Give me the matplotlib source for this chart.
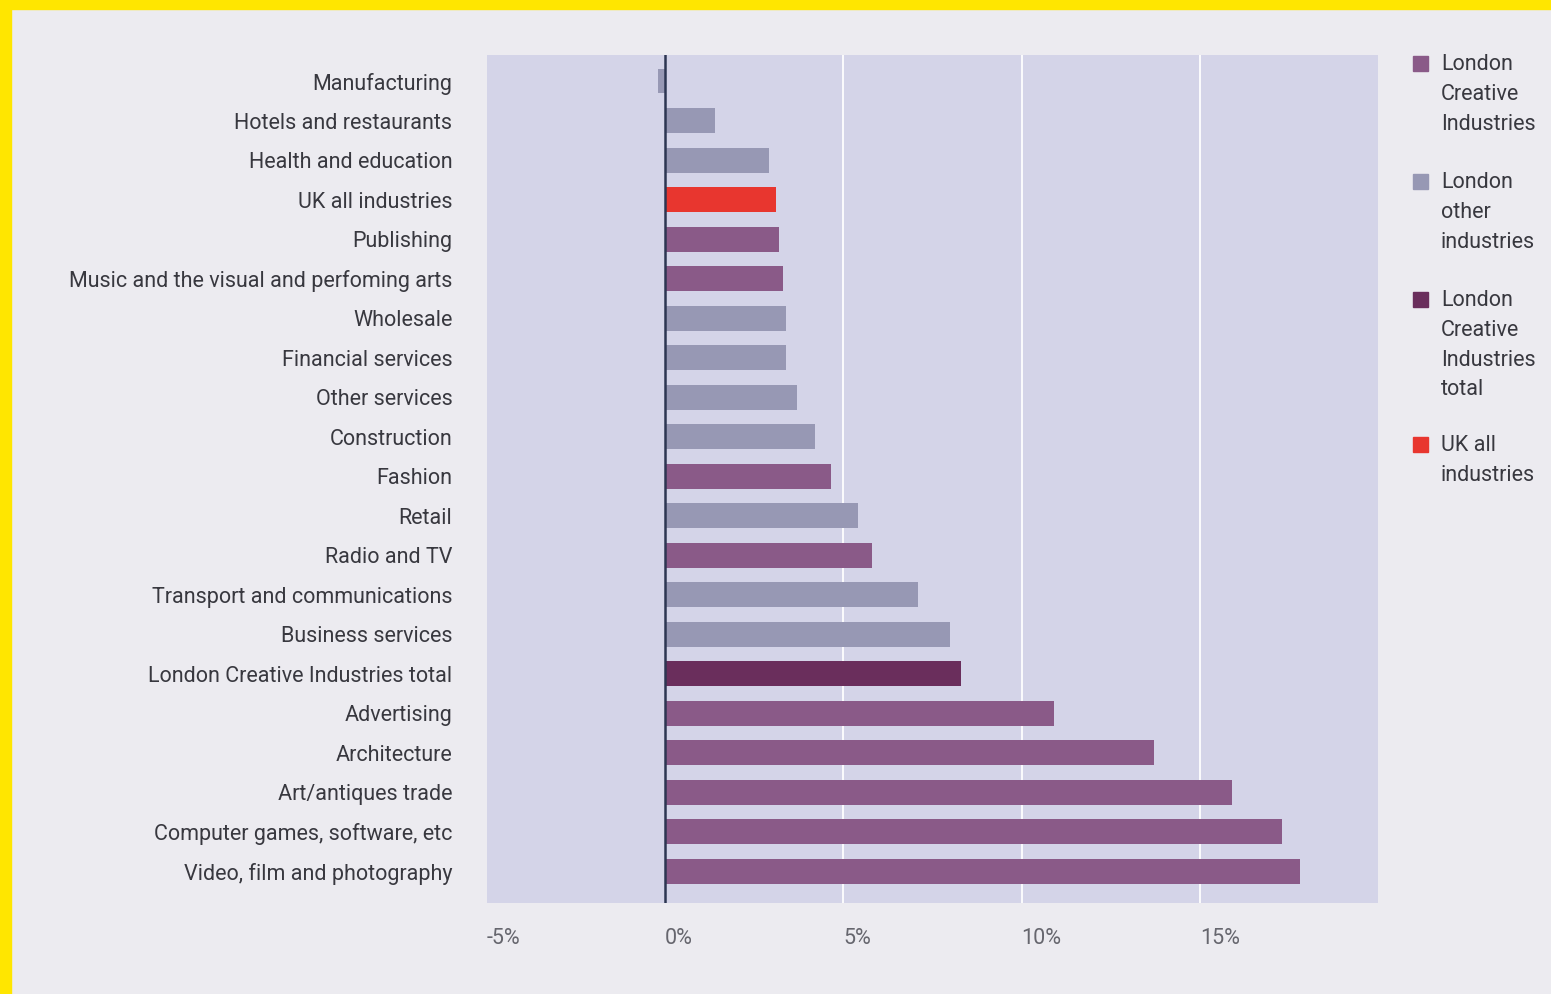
import numpy as np
import matplotlib.pyplot as plt
from matplotlib.patches import Rectangle

plt.rcParams['font.family'] = ['Roboto', 'Open Sans', 'DejaVu Sans']

industries = [
    "Manufacturing", "Hotels and restaurants", "Health and education",
    "UK all industries", "Publishing", "Music and the visual and perfoming arts",
    "Wholesale", "Financial services", "Other services", "Construction",
    "Fashion", "Retail", "Radio and TV", "Transport and communications",
    "Business services", "London Creative Industries total", "Advertising",
    "Architecture", "Art/antiques trade", "Computer games, software, etc",
    "Video, film and photography",
]
growth = [-0.2, 1.4, 2.9, 3.1, 3.2, 3.3, 3.4, 3.4, 3.7, 4.2, 4.65,
          5.4, 5.8, 7.1, 8.0, 8.3, 10.9, 13.7, 15.9, 17.3, 17.8]
group = ["other", "other", "other", "uk", "creative", "creative", "other",
         "other", "other", "other", "creative", "other", "creative", "other",
         "other", "total", "creative", "creative", "creative", "creative",
         "creative"]

palette = {
    "creative": "#8a5a88",
    "other": "#9798b4",
    "total": "#6a2e5c",
    "uk": "#e8362f",
}
legend_items = [
    ("creative", "London\nCreative\nIndustries"),
    ("other", "London\nother\nindustries"),
    ("total", "London\nCreative\nIndustries\ntotal"),
    ("uk", "UK all\nindustries"),
]
xticks = [-5, 0, 5, 10, 15]

fig = plt.figure(figsize=(15.51, 9.94), dpi=100, facecolor="#ecebf0")
ax = fig.add_axes([0.314, 0.0915, 0.5745, 0.8532])
ax.set_facecolor("#d4d4e8")

y = np.arange(len(industries))
ax.barh(y, growth, height=0.63, color=[palette[g] for g in group], zorder=2)

for v in xticks[2:]:
    ax.axvline(v, color="white", lw=1.3, zorder=1)
ax.axvline(0, color="#2d3652", lw=1.8, zorder=3)

ax.set_xlim(-5, 20)
ax.set_ylim(len(industries) - 0.2, -0.66)
ax.set_yticks(y)
ax.set_yticklabels(industries, fontsize=15.5, color="#38383f")
ax.set_xticks(xticks)
ax.set_xticklabels([f"{v}%" for v in xticks], fontsize=15.5, color="#66666e",
                   ha="left")
ax.tick_params(axis="y", length=0, pad=25)
ax.tick_params(axis="x", length=0, pad=18)
for s in ax.spines.values():
    s.set_visible(False)

# legend down the right-hand side
W, H = 1551, 994
tops = [63, 181, 299, 444]
for (key, label), top in zip(legend_items, tops):
    fig.patches.append(Rectangle((1413 / W, 1 - (top + 8) / H), 15 / W, 15 / H,
                                 transform=fig.transFigure,
                                 color=palette[key]))
    fig.text(1441 / W, 1 - (top - 9) / H, label, fontsize=15.5,
             color="#38383f", va="top", ha="left", linespacing=1.55)

# yellow frame on the top and left edges
fig.patches.append(Rectangle((0, 1 - 9 / H), 1, 9 / H,
                             transform=fig.transFigure, color="#ffe600"))
fig.patches.append(Rectangle((0, 0), 11 / W, 1,
                             transform=fig.transFigure, color="#ffe600"))

fig.savefig("out.png", dpi=100, facecolor=fig.get_facecolor())
